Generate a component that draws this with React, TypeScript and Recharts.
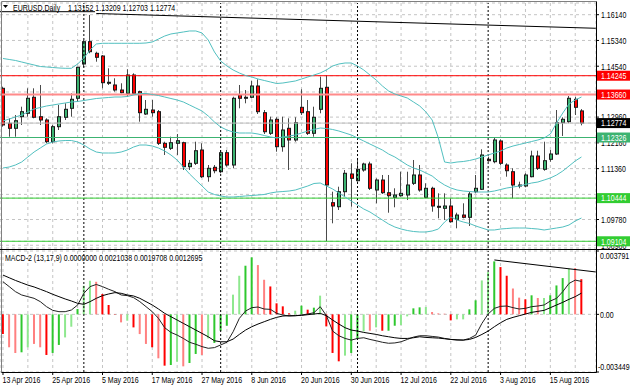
import React from 'react';
import { ComposedChart, Bar, Line, XAxis, YAxis, ReferenceLine, CartesianGrid, Cell } from 'recharts';

const FONT = '"Liberation Sans", Arial, sans-serif';
const SX = 0.78;

// ---- daily candles, 13 Apr 2016 .. 22 Aug 2016 ----
const openP = [1.13854,1.12767,1.12612,1.12972,1.13078,1.13575,1.12972,1.12870,1.12196,1.12662,
1.12954,1.13233,1.13544,1.14609,1.15302,1.14941,1.14857,1.14028,1.13957,1.13801,
1.13699,1.14267,1.13749,1.13056,1.13180,1.13128,1.12146,1.11991,1.12146,1.12165,
1.11420,1.11525,1.11938,1.11109,1.11401,1.11264,1.11854,1.11472,1.13646,1.13562,
1.13575,1.13926,1.13097,1.12457,1.12892,1.12041,1.12612,1.12249,1.13264,1.13128,
1.12457,1.13202,1.13885,1.10302,1.10177,1.10643,1.11193,1.10985,1.11317,1.11503,
1.10696,1.11006,1.10612,1.10469,1.10519,1.10541,1.10904,1.11162,1.10469,1.10749,
1.10190,1.10128,1.10199,1.09786,1.09919,1.09848,1.10643,1.10718,1.11649,1.11575,
1.12218,1.11472,1.11264,1.10851,1.10820,1.11109,1.11752,1.11339,1.11649,1.11814,
1.12786,1.12817,1.13513,1.13152];
const highP = [1.13904,1.12923,1.13025,1.13283,1.13854,1.13854,1.13957,1.12923,1.12715,1.13336,
1.13388,1.13699,1.14525,1.15354,1.16131,1.14991,1.14888,1.14475,1.14165,1.14010,
1.14444,1.14320,1.13780,1.13491,1.13491,1.13180,1.12196,1.12351,1.12435,1.12196,
1.11628,1.12196,1.12146,1.11472,1.11472,1.11938,1.11938,1.13593,1.13957,1.13801,
1.14090,1.14134,1.13180,1.12972,1.12954,1.12972,1.12923,1.12954,1.13823,1.13491,
1.13283,1.14215,1.14267,1.10643,1.10798,1.11317,1.11525,1.11628,1.11544,1.11575,
1.11059,1.11162,1.11162,1.10749,1.11264,1.11264,1.11628,1.11472,1.10904,1.10798,
1.10593,1.10593,1.10438,1.09991,1.10283,1.10643,1.11162,1.11960,1.11730,1.12333,
1.12270,1.11525,1.11370,1.10954,1.11215,1.11916,1.11916,1.12196,1.11938,1.13180,
1.12954,1.13615,1.13593,1.13209];
const lowP = [1.12662,1.12351,1.12351,1.12715,1.12972,1.12923,1.12715,1.12146,1.12146,1.12559,
1.12870,1.12972,1.13438,1.14506,1.14941,1.14680,1.13854,1.13957,1.13749,1.13699,
1.13593,1.13690,1.12817,1.13025,1.12972,1.12093,1.11783,1.11938,1.11783,1.11317,
1.11317,1.11472,1.11069,1.10954,1.11215,1.11215,1.11420,1.11370,1.13233,1.13388,
1.13544,1.13056,1.12435,1.12404,1.11885,1.11885,1.11317,1.12196,1.13025,1.12404,
1.12351,1.13078,1.09110,1.09662,1.10075,1.10488,1.10177,1.10954,1.11264,1.10696,
1.10283,1.10572,1.09991,1.10159,1.10488,1.10385,1.10851,1.10643,1.10438,1.10022,
1.09817,1.09764,1.09680,1.09506,1.09817,1.09578,1.10593,1.10696,1.11575,1.11525,
1.11472,1.11109,1.10438,1.10749,1.10780,1.11090,1.11317,1.11295,1.11575,1.11783,
1.12373,1.12767,1.13025,1.12703];
const closeP = [1.12715,1.12612,1.12848,1.13128,1.13544,1.12954,1.12870,1.12196,1.12662,1.12972,
1.13202,1.13513,1.14506,1.15302,1.14991,1.14817,1.14028,1.14041,1.13801,1.13718,
1.14267,1.13699,1.13097,1.13202,1.13097,1.12146,1.12022,1.12165,1.12227,1.11420,
1.11525,1.11916,1.11109,1.11370,1.11295,1.11854,1.11472,1.13544,1.13544,1.13575,
1.13926,1.13128,1.12506,1.12870,1.12041,1.12559,1.12249,1.12786,1.13097,1.12457,
1.12954,1.13854,1.10851,1.10199,1.10643,1.11215,1.11059,1.11339,1.11503,1.10749,
1.11006,1.10612,1.10519,1.10541,1.10593,1.10851,1.11162,1.10696,1.10749,1.10199,
1.10177,1.10199,1.09711,1.09919,1.09848,1.10572,1.10749,1.11783,1.11606,1.12249,
1.11525,1.11295,1.10851,1.10820,1.11162,1.11752,1.11370,1.11606,1.11814,1.12786,
1.12892,1.13544,1.13264,1.12774];

// ---- Bollinger bands ----
const bbUpper = [1.14780,1.14749,1.14718,1.14671,1.14624,1.14578,1.14531,1.14516,1.14500,1.14485,
1.14475,1.14475,1.14609,1.14795,1.15044,1.15230,1.15252,1.15252,1.15252,1.15252,
1.15252,1.15252,1.15252,1.15261,1.15292,1.15385,1.15478,1.15541,1.15572,1.15603,
1.15634,1.15634,1.15572,1.15354,1.14982,1.14702,1.14547,1.14423,1.14329,1.14252,
1.14205,1.14143,1.14097,1.14050,1.14003,1.14019,1.14050,1.14081,1.14143,1.14205,
1.14267,1.14329,1.14423,1.14547,1.14609,1.14640,1.14640,1.14547,1.14423,1.14267,
1.14112,1.13926,1.13770,1.13677,1.13615,1.13553,1.13429,1.13305,1.13118,1.12870,
1.12311,1.11565,1.11534,1.11565,1.11581,1.11612,1.11659,1.11721,1.11783,1.11845,
1.11907,1.12000,1.12062,1.12109,1.12156,1.12202,1.12249,1.12311,1.12435,1.12777,
1.13087,1.13367,1.13491,1.13584];
const bbMiddle = [1.12839,1.12901,1.12963,1.13025,1.13118,1.13211,1.13258,1.13305,1.13336,1.13367,
1.13398,1.13429,1.13444,1.13475,1.13506,1.13537,1.13553,1.13569,1.13584,1.13584,
1.13600,1.13646,1.13693,1.13693,1.13662,1.13631,1.13584,1.13537,1.13491,1.13429,
1.13336,1.13242,1.13149,1.12994,1.12808,1.12652,1.12559,1.12497,1.12466,1.12466,
1.12466,1.12435,1.12388,1.12342,1.12311,1.12342,1.12373,1.12404,1.12466,1.12528,
1.12575,1.12621,1.12606,1.12575,1.12528,1.12466,1.12404,1.12311,1.12218,1.12124,
1.12031,1.11938,1.11814,1.11721,1.11597,1.11472,1.11379,1.11317,1.11224,1.11131,
1.10975,1.10851,1.10758,1.10696,1.10665,1.10649,1.10634,1.10634,1.10634,1.10665,
1.10711,1.10758,1.10789,1.10820,1.10867,1.10913,1.10944,1.11006,1.11069,1.11162,
1.11286,1.11441,1.11597,1.11721];
const bbLower = [1.11379,1.11410,1.11472,1.11565,1.11721,1.11876,1.12000,1.12124,1.12187,1.12218,
1.12233,1.12233,1.12187,1.12093,1.11969,1.11876,1.11845,1.11845,1.11845,1.11876,
1.11938,1.12031,1.12093,1.12093,1.12062,1.12000,1.11907,1.11783,1.11628,1.11410,
1.11193,1.11006,1.10820,1.10634,1.10556,1.10510,1.10479,1.10479,1.10494,1.10510,
1.10525,1.10541,1.10556,1.10603,1.10634,1.10649,1.10665,1.10696,1.10758,1.10820,
1.10898,1.10913,1.10820,1.10727,1.10603,1.10479,1.10354,1.10230,1.10106,1.10013,
1.09888,1.09764,1.09640,1.09547,1.09485,1.09438,1.09407,1.09392,1.09392,1.09423,
1.09485,1.09702,1.09857,1.09764,1.09702,1.09656,1.09578,1.09516,1.09454,1.09454,
1.09485,1.09500,1.09516,1.09516,1.09516,1.09500,1.09485,1.09454,1.09485,1.09516,
1.09547,1.09609,1.09733,1.09826];

// ---- MACD-2 (13,17,9) ----
const macdHist = [-0.00118,-0.00197,-0.00231,-0.00227,-0.00197,-0.00177,-0.00197,-0.00243,-0.00231,-0.00183,
-0.00138,-0.00074,0.00032,0.00171,0.00201,0.00195,0.00122,0.00056,0.00002,-0.00048,
-0.00038,-0.00078,-0.00118,-0.00177,-0.00197,-0.00263,-0.00307,-0.00303,-0.00283,-0.00311,
-0.00291,-0.00237,-0.00243,-0.00144,-0.00171,-0.00098,-0.00068,0.00118,0.00231,0.00291,
0.00341,0.00295,0.00207,0.00167,0.00066,0.00048,0.00006,0.00022,0.00052,0.00028,
0.00040,0.00112,-0.00072,-0.00231,-0.00281,-0.00247,-0.00231,-0.00148,-0.00102,-0.00098,
-0.00078,-0.00098,-0.00098,-0.00068,-0.00064,-0.00012,0.00036,0.00042,0.00044,0.00014,
0.00006,0.00004,-0.00036,-0.00030,-0.00030,0.00030,0.00084,0.00203,0.00253,0.00317,
0.00283,0.00231,0.00154,0.00100,0.00090,0.00114,0.00098,0.00098,0.00114,0.00173,
0.00217,0.00273,0.00277,0.0021038];
const histColorCodes = ['RrrGgrrRGG','ggGggrRRRr','gRrrRrRGgr','GGrgGGGggG','GrrRRRRgGR',
'GgRRRgGGgr','gRGGggGGgr','rrRggGGggG','RRrrRGrgGG','GgrR'];
const macdLine = [0.00195,0.00166,0.00136,0.00116,0.00106,0.00096,0.00076,0.00046,0.00024,0.00016,
0.00016,0.00026,0.00056,0.00126,0.00166,0.00179,0.00166,0.00150,0.00136,0.00116,
0.00112,0.00100,0.00076,0.00046,0.00016,-0.00024,-0.00080,-0.00108,-0.00124,-0.00144,
-0.00167,-0.00179,-0.00193,-0.00203,-0.00199,-0.00183,-0.00167,-0.00104,-0.00024,0.00020,
0.00040,0.00044,0.00032,0.00030,0.00006,-0.00004,-0.00010,-0.00008,-0.00004,0.00002,
0.00010,0.00046,-0.00008,-0.00100,-0.00128,-0.00144,-0.00154,-0.00144,-0.00140,-0.00150,
-0.00158,-0.00167,-0.00173,-0.00171,-0.00164,-0.00150,-0.00136,-0.00128,-0.00128,-0.00132,
-0.00136,-0.00144,-0.00150,-0.00154,-0.00154,-0.00144,-0.00124,-0.00054,0.00002,0.00036,
0.00048,0.00050,0.00040,0.00032,0.00036,0.00046,0.00050,0.00056,0.00080,0.00096,
0.00136,0.00185,0.00205,0.0019708];
const macdSignal = [0.00235,0.00219,0.00203,0.00189,0.00175,0.00164,0.00150,0.00136,0.00120,0.00106,
0.00092,0.00080,0.00066,0.00060,0.00076,0.00096,0.00112,0.00122,0.00130,0.00126,
0.00116,0.00110,0.00096,0.00076,0.00056,0.00032,0.00006,-0.00014,-0.00034,-0.00054,
-0.00074,-0.00094,-0.00114,-0.00134,-0.00158,-0.00164,-0.00164,-0.00148,-0.00120,-0.00094,
-0.00074,-0.00058,-0.00044,-0.00030,-0.00018,-0.00010,-0.00008,-0.00008,-0.00006,-0.00002,
0.00002,0.00006,-0.00008,-0.00034,-0.00058,-0.00080,-0.00094,-0.00100,-0.00108,-0.00114,
-0.00120,-0.00128,-0.00134,-0.00140,-0.00144,-0.00144,-0.00140,-0.00134,-0.00138,-0.00140,
-0.00142,-0.00146,-0.00150,-0.00152,-0.00154,-0.00150,-0.00138,-0.00120,-0.00100,-0.00074,
-0.00050,-0.00030,-0.00018,-0.00008,0.00002,0.00012,0.00018,0.00024,0.00040,0.00056,
0.00072,0.00090,0.00106,0.0012695];

// ---- axes / annotations ----
const dateLabels = ['13 Apr 2016','25 Apr 2016','5 May 2016','17 May 2016','27 May 2016','8 Jun 2016',
'20 Jun 2016','30 Jun 2016','12 Jul 2016','22 Jul 2016','3 Aug 2016','15 Aug 2016'];
const dateTickIdx = [0, 8, 16, 24, 32, 40, 48, 56, 64, 72, 80, 88];
const gridIdx = [0,4,8,12,16,20,24,28,32,36,40,44,48,52,56,60,64,68,72,76,80,84,88,92];
const monthStartIdx = [13, 35, 57, 78];
const priceTickLabels = [1.1614, 1.1534, 1.1454, 1.1296, 1.1216, 1.1136, 1.0978, 1.0898];
const priceGridOnly = [1.1374, 1.1056];
const levelPrices = [1.14245, 1.1366, 1.12326, 1.10444, 1.09104];
const levelLineColors = ['#ff0000', '#ff8a8a', '#3cb371', '#32cd32', '#32cd32'];
const levelLineWidths = [1, 2, 1, 1, 1];
const levelBoxColors = ['#ff0000', '#ff0000', '#3cb371', '#32cd32', '#32cd32'];
const mainDomain = [1.08895, 1.16503];
const macdDomain = [-0.003449, 0.003791];
const xDomain = [-0.48, 95.34];
const headerRule = [{ x: -0.48, y: 1.16233 }, { x: 14.8, y: 1.16233 }];
const priceTrend = [{ x: 15, y: 1.16177 }, { x: 95.3, y: 1.15718 }];
const macdTrend = [{ x: 79, y: 0.003255 }, { x: 95.3, y: 0.002537 }];

const N = openP.length;
const histColorStr = histColorCodes.join('');
const histPalette: Record<string, string> = { G: '#2ec82e', g: '#8ee88e', R: '#ff0000', r: '#ff8080' };
const bid = closeP[N - 1];

const data = openP.map((o, i) => ({
  i, open: o, high: highP[i], low: lowP[i], close: closeP[i],
  up: bbUpper[i], mid: bbMiddle[i], lo: bbLower[i],
  hist: macdHist[i], macd: macdLine[i], sig: macdSignal[i],
}));

const mainTicks = [...priceGridOnly, ...priceTickLabels, bid, ...levelPrices];

const Candle = (props: any) => {
  const { x, y, width, height, payload } = props;
  if (x == null || !payload) return null;
  const c = x + width / 2;
  const fx = Math.floor(c);
  const top = Math.min(y, y + height);
  const bot = Math.max(y, y + height);
  const span = payload.high - payload.low;
  const py = (v: number) => (span > 0 ? top + ((payload.high - v) / span) * (bot - top) : top);
  const yo = py(payload.open);
  const yc = py(payload.close);
  const bull = payload.close >= payload.open;
  const bt = Math.min(yo, yc);
  const bh = Math.max(Math.abs(yc - yo), 1);
  return (
    <g>
      <line x1={fx + 0.5} x2={fx + 0.5} y1={top} y2={bot} stroke="#4a4a4a" strokeWidth={1} />
      <rect x={fx - 0.5} y={bt} width={3} height={bh} fill={bull ? '#3cb371' : '#ff0000'} stroke="#1a1a1a" strokeWidth={1} />
    </g>
  );
};

const sameP = (a: number, b: number) => Math.abs(a - b) < 1e-7;

const PriceTick = (props: any) => {
  const { x, y, payload } = props;
  const v = payload.value as number;
  if (priceGridOnly.some((p) => sameP(p, v))) return <g />;
  const li = levelPrices.findIndex((p) => sameP(p, v));
  const isBid = sameP(v, bid);
  if (li >= 0 || isBid) {
    const bg = isBid ? '#000000' : levelBoxColors[li];
    return (
      <g>
        <rect x={x + 1} y={y - 5} width={34} height={10} fill={bg} />
        <text transform={`translate(${x + 5},${y + 3.3}) scale(${SX},1)`} fontSize={9} fontFamily={FONT} fill="#fff">
          {v.toFixed(5)}
        </text>
      </g>
    );
  }
  return (
    <g>
      <line x1={x} x2={x + 3} y1={y} y2={y} stroke="#000" />
      <text transform={`translate(${x + 5},${y + 3.3}) scale(${SX},1)`} fontSize={9} fontFamily={FONT} fill="#000">
        {v.toFixed(5)}
      </text>
    </g>
  );
};

const MacdTick = (props: any) => {
  const { x, y, payload } = props;
  const v = payload.value as number;
  const dy = v > 0 ? 5 : v < 0 ? -5 : 0;
  const label = v === 0 ? '0.00' : v.toFixed(6);
  return (
    <g>
      <line x1={x} x2={x + 3} y1={y} y2={y} stroke="#000" />
      <text transform={`translate(${x + (v < 0 ? 2 : 4)},${y + dy + 3.3}) scale(${SX},1)`} fontSize={9} fontFamily={FONT} fill="#000">
        {label}
      </text>
    </g>
  );
};

const DateTick = (props: any) => {
  const { x, y, payload } = props;
  const k = dateTickIdx.indexOf(payload.value);
  if (k < 0) return <g />;
  return (
    <g>
      <line x1={x} x2={x} y1={y} y2={y + 3} stroke="#000" />
      <text transform={`translate(${x - 0.5},${y + 10.5}) scale(${SX},1)`} fontSize={9} fontFamily={FONT} fill="#000">
        {dateLabels[k]}
      </text>
    </g>
  );
};

const gridColor = '#c4c4c4';

export default function App() {
  const last = N - 1;
  return (
    <div style={{ position: 'fixed', left: 0, top: 0, width: 630, height: 388, background: '#fff', overflow: 'hidden' }}>
      <div style={{ position: 'absolute', left: 0, top: 0 }}>
        <ComposedChart width={630} height={249} data={data} margin={{ top: 3, right: 0, bottom: 1, left: 0 }}>
          <CartesianGrid stroke={gridColor} strokeDasharray="3 3" />
          <XAxis dataKey="i" type="number" domain={xDomain} allowDataOverflow ticks={gridIdx} hide />
          <YAxis orientation="right" width={34} type="number" domain={mainDomain} allowDataOverflow
            ticks={mainTicks} interval={0} tick={<PriceTick />} tickLine={false} axisLine={false} tickSize={0} tickMargin={0} />
          {monthStartIdx.map((m) => (
            <ReferenceLine key={'m' + m} x={m} stroke="#000" strokeDasharray="2 2" />
          ))}
          <ReferenceLine y={bid} stroke="#c0c0c0" />
          {levelPrices.map((p, k) => (
            <ReferenceLine key={'l' + p} y={p} stroke={levelLineColors[k]} strokeWidth={levelLineWidths[k]} />
          ))}
          <ReferenceLine segment={headerRule} stroke="#000" />
          <ReferenceLine segment={priceTrend} stroke="#000" />
          <Line dataKey="up" stroke="#52c0c0" dot={false} strokeWidth={1} isAnimationActive={false} />
          <Line dataKey="mid" stroke="#52c0c0" dot={false} strokeWidth={1} isAnimationActive={false} />
          <Line dataKey="lo" stroke="#52c0c0" dot={false} strokeWidth={1} isAnimationActive={false} />
          <Bar dataKey={(d: any) => [d.low, d.high]} barSize={4} shape={(p: any) => <Candle {...p} />} isAnimationActive={false} />
        </ComposedChart>
      </div>
      <div style={{ position: 'absolute', left: 0, top: 248 }}>
        <ComposedChart width={630} height={140} data={data} margin={{ top: 3, right: 0, bottom: 0, left: 0 }}>
          <CartesianGrid stroke={gridColor} strokeDasharray="3 3" />
          <XAxis dataKey="i" type="number" domain={xDomain} allowDataOverflow ticks={gridIdx} interval={0}
            height={16} tick={<DateTick />} tickLine={false} axisLine={false} tickSize={0} tickMargin={0} />
          <YAxis orientation="right" width={34} type="number" domain={macdDomain} allowDataOverflow
            ticks={[macdDomain[1], 0, macdDomain[0]]} interval={0} tick={<MacdTick />} tickLine={false} axisLine={false} tickSize={0} tickMargin={0} />
          {monthStartIdx.map((m) => (
            <ReferenceLine key={'mm' + m} x={m} stroke="#000" strokeDasharray="2 2" />
          ))}
          <Bar dataKey="hist" barSize={2} isAnimationActive={false}>
            {data.map((d) => (
              <Cell key={d.i} fill={histPalette[histColorStr[d.i]]} />
            ))}
          </Bar>
          <Line dataKey="macd" stroke="#222" dot={false} strokeWidth={1} isAnimationActive={false} />
          <Line dataKey="sig" stroke="#000" dot={false} strokeWidth={1} isAnimationActive={false} />
          <ReferenceLine segment={macdTrend} stroke="#000" />
        </ComposedChart>
      </div>
      <svg width={630} height={388} style={{ position: 'absolute', left: 0, top: 0, pointerEvents: 'none' }}>
        <line x1={1.5} x2={1.5} y1={1.5} y2={372.5} stroke="#808080" />
        <line x1={1.5} x2={596.5} y1={1.5} y2={1.5} stroke="#808080" />
        <line x1={596.5} x2={596.5} y1={1.5} y2={372.5} stroke="#000" />
        <line x1={0} x2={630} y1={249.5} y2={249.5} stroke="#000" />
        <line x1={1.5} x2={596.5} y1={372.5} y2={372.5} stroke="#000" />
        <path d="M3 5 L8 5 L5.5 8 Z" fill="#000" />
        <text transform={`translate(13,10.5) scale(${SX},1)`} fontSize={9} fontFamily={FONT} fill="#000">
          EURUSD,Daily
        </text>
        <text transform={`translate(68,10.5) scale(${SX},1)`} fontSize={9} fontFamily={FONT} fill="#000">
          {`${openP[last].toFixed(5)} ${highP[last].toFixed(5)} ${lowP[last].toFixed(5)} ${closeP[last].toFixed(5)}`}
        </text>
        <text transform={`translate(5,260.5) scale(${SX},1)`} fontSize={9} fontFamily={FONT} fill="#000">
          {`MACD-2 (13,17,9) ${(0).toFixed(7)} ${macdHist[last].toFixed(7)} ${macdLine[last].toFixed(7)} ${macdSignal[last].toFixed(7)}`}
        </text>
      </svg>
    </div>
  );
}
